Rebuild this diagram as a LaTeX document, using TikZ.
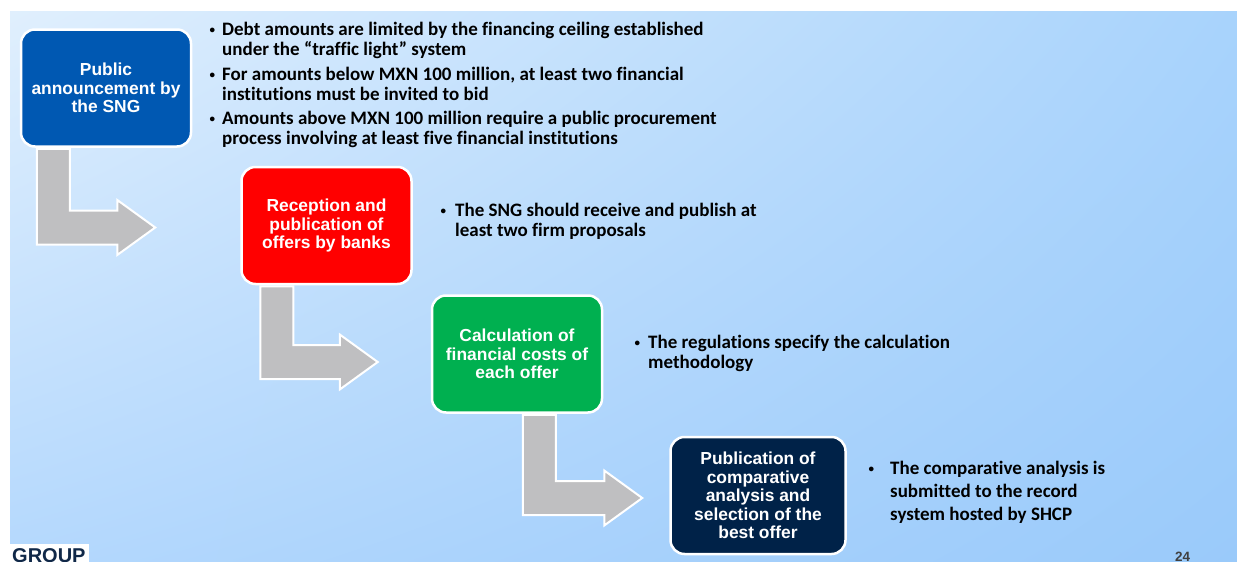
\documentclass[tikz,border=0pt]{standalone}
\usepackage{fontspec}
\setmainfont{Carlito}[Ligatures=CommonOff]
\newfontfamily\boxfont{Liberation Sans}
\usetikzlibrary{calc, positioning, shadings}

\definecolor{sngblue}{RGB}{0,88,178}
\definecolor{bankred}{RGB}{255,0,0}
\definecolor{costgreen}{RGB}{0,176,80}
\definecolor{bestnavy}{RGB}{0,34,72}
\definecolor{elbowgray}{RGB}{191,191,193}
\definecolor{bgtl}{RGB}{224,239,253}
\definecolor{bgtr}{RGB}{168,211,252}
\definecolor{bgbl}{RGB}{180,216,253}
\definecolor{bgbr}{RGB}{154,202,250}
\definecolor{groupnavy}{RGB}{16,40,72}
\definecolor{pagegray}{RGB}{64,64,64}

% small bullet for the notes
\newcommand{\dotmark}{\raisebox{2pt}{\fontsize{11}{11}\selectfont\textbullet}}

% bent block arrow: from, to, stem inset, bar drop, gap before the next box
\newcommand{\elbow}[5]{%
  \draw[elbow] let \p1=(#1.south west), \p2=(#2.west) in
    (\x1+#3pt,\y1-1pt) -- (\x1+#3pt+33pt,\y1-1pt)
    -- (\x1+#3pt+33pt,\y2-#4pt+17pt) -- (\x2-#5pt-38pt,\y2-#4pt+17pt)
    -- (\x2-#5pt-38pt,\y2-#4pt+27.5pt) -- (\x2-#5pt,\y2-#4pt)
    -- (\x2-#5pt-38pt,\y2-#4pt-27.5pt) -- (\x2-#5pt-38pt,\y2-#4pt-17pt)
    -- (\x1+#3pt,\y2-#4pt-17pt) -- cycle;}

\begin{document}
\begin{tikzpicture}[
  x=1pt, y=-1pt,
  stepbox/.style={draw=white, line width=2.5pt, rounded corners=14pt,
    minimum width=170pt, minimum height=117pt, align=center, text=white,
    font=\boxfont\bfseries\fontsize{17.4}{18.6}\selectfont},
  elbow/.style={fill=elbowgray, draw=white, line width=2pt, line join=miter},
  note/.style={anchor=base west, inner sep=0pt,
    font=\bfseries\fontsize{19}{20}\selectfont},
]
  \useasboundingbox (0,0) rectangle (1237,562);
  \fill[white] (0,0) rectangle (1237,562);
  \shade[upper left=bgtl, upper right=bgtr, lower left=bgbl, lower right=bgbr]
    (10,11) rectangle (1237,562);

  % the four steps
  \node[stepbox, fill=sngblue] (announce) at (106,88)
    {Public\\announcement by\\the SNG};
  \node[stepbox, fill=bankred, below right=18pt and 48pt of announce] (offers)
    {Reception and\\publication of\\offers by banks};
  \node[stepbox, fill=costgreen, below right=9pt and 18pt of offers] (costs)
    {Calculation of\\financial costs of\\each offer};
  \node[stepbox, fill=bestnavy, below right=22pt and 66pt of costs,
    minimum width=175pt] (best)
    {Publication of\\comparative\\analysis and\\selection of the\\best offer};

  \elbow{announce}{offers}{17}{2}{85}
  \elbow{offers}{costs}{20}{8}{53}
  \elbow{costs}{best}{92}{2.5}{27}

  % notes beside each step
  \node[note] (limits) at (209.5,35.5) {\begin{tabular}[t]{@{}p{12.5pt}@{}l@{}}
    \dotmark & Debt amounts are limited by the financing ceiling established\\
    & under the “traffic light” system\\[4.5pt]
    \dotmark & For amounts below MXN 100 million, at least two financial\\
    & institutions must be invited to bid\\[4.5pt]
    \dotmark & Amounts above MXN 100 million require a public procurement\\
    & process involving at least five financial institutions
  \end{tabular}};
  \node[note] (proposals) at (440.5,216.5) {\begin{tabular}[t]{@{}p{14.5pt}@{}l@{}}
    \dotmark & The SNG should receive and publish at\\
    & least two firm proposals
  \end{tabular}};
  \node[note] (method) at (634.5,348.5) {\begin{tabular}[t]{@{}p{13.5pt}@{}l@{}}
    \dotmark & The regulations specify the calculation\\
    & methodology
  \end{tabular}};
  \node[note, font=\bfseries\fontsize{19}{23}\selectfont] (record) at (868.5,474)
    {\begin{tabular}[t]{@{}p{21.5pt}@{}l@{}}
    \dotmark & The comparative analysis is\\
    & submitted to the record\\
    & system hosted by SHCP
  \end{tabular}};

  % footer
  \fill[white] (10,544) rectangle (89,562);
  \node[anchor=base west, inner sep=0pt, text=groupnavy,
    font=\boxfont\bfseries\fontsize{20}{20}\selectfont] (group) at (12,562.5) {GROUP};
  \node[anchor=base west, inner sep=0pt, text=pagegray,
    font=\boxfont\bfseries\fontsize{13.5}{13.5}\selectfont] (page) at (1175,561) {24};
\end{tikzpicture}
\end{document}
